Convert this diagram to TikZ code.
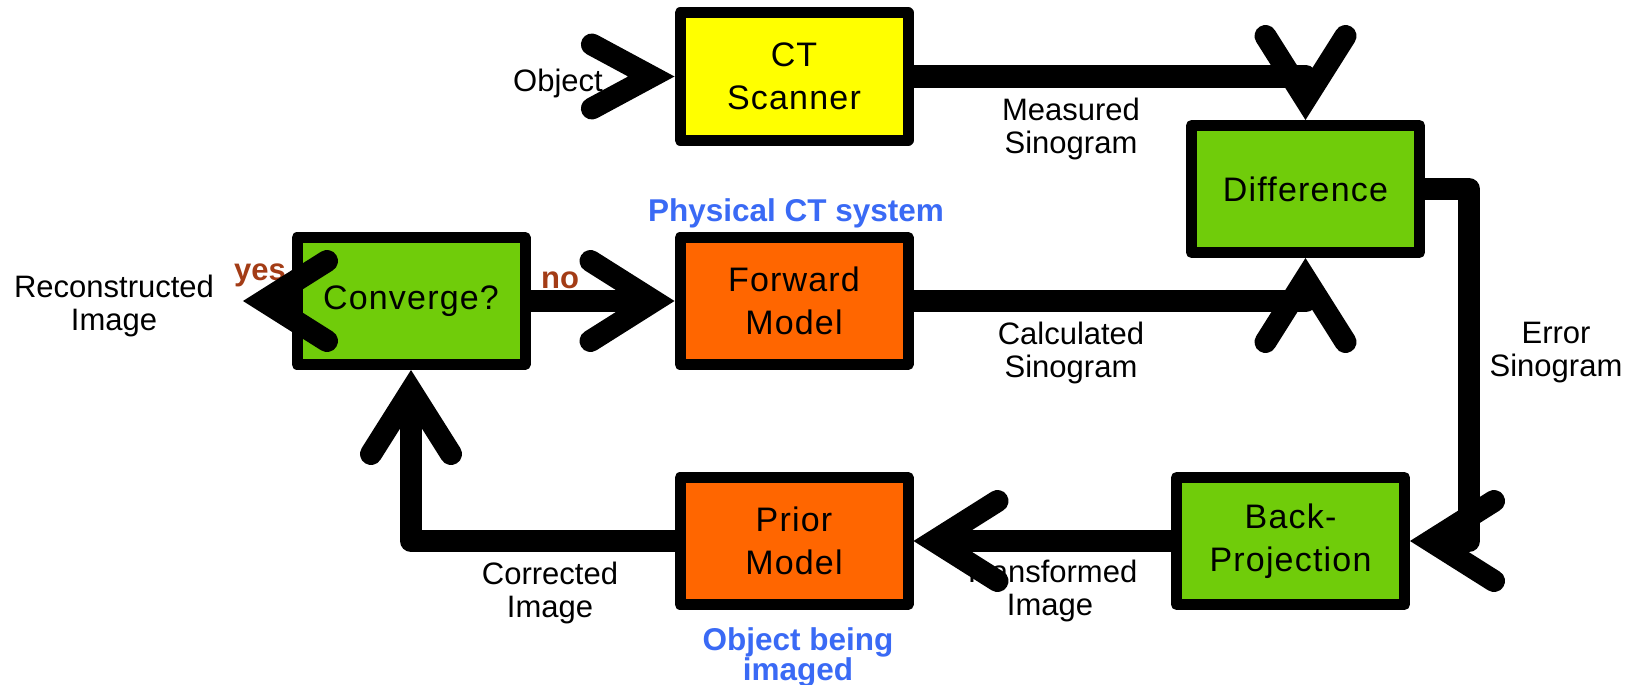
\documentclass[tikz,border=0pt]{standalone}
\usepackage{fontspec}
\setmainfont{Liberation Sans}
\newfontfamily\boxfont[LetterSpace=3.5]{Liberation Sans}
\definecolor{ctyellow}{RGB}{255,255,0}
\definecolor{boxgreen}{RGB}{112,204,10}
\definecolor{boxorange}{RGB}{255,102,0}
\definecolor{noteblue}{RGB}{58,106,245}
\definecolor{answerbrown}{RGB}{163,60,22}
% thick open chevron arrow head with round arm ends and a mitred point
\pgfdeclarearrow{
  name = Chev,
  setup code = {
    \pgfarrowssettipend{20.6pt}
    \pgfarrowssetlineend{-6pt}
    \pgfarrowssetbackend{-74.4pt}
    \pgfarrowshullpoint{20.6pt}{0pt}
    \pgfarrowshullpoint{-74.4pt}{51pt}
    \pgfarrowshullpoint{-74.4pt}{-51pt}
  },
  drawing code = {
    \pgfsetdash{}{0pt}
    \pgfsetlinewidth{22pt}
    \pgfsetmiterjoin
    \pgfsetroundcap
    \pgfpathmoveto{\pgfqpoint{-63.4pt}{40pt}}
    \pgfpathlineto{\pgfpointorigin}
    \pgfpathlineto{\pgfqpoint{-63.4pt}{-40pt}}
    \pgfusepathqstroke
  }
}
\pgfdeclarearrow{
  name = ChevN,
  setup code = {
    \pgfarrowssettipend{23.2pt}
    \pgfarrowssetlineend{-6pt}
    \pgfarrowssetbackend{-70.4pt}
    \pgfarrowshullpoint{23.2pt}{0pt}
    \pgfarrowshullpoint{-70.4pt}{43pt}
    \pgfarrowshullpoint{-70.4pt}{-43pt}
  },
  drawing code = {
    \pgfsetdash{}{0pt}
    \pgfsetlinewidth{22pt}
    \pgfsetmiterjoin
    \pgfsetroundcap
    \pgfpathmoveto{\pgfqpoint{-59.4pt}{32pt}}
    \pgfpathlineto{\pgfpointorigin}
    \pgfpathlineto{\pgfqpoint{-59.4pt}{-32pt}}
    \pgfusepathqstroke
  }
}
\tikzset{
  box/.style={draw, line width=11pt, line join=round, minimum width=228pt,
    minimum height=127pt, inner sep=0pt, align=center,
    font=\boxfont\fontsize{34}{43}\selectfont},
  lbl/.style={align=center, inner sep=0pt, anchor=north,
    font=\fontsize{31}{33}\selectfont},
  note/.style={align=center, inner sep=0pt, text=noteblue,
    font=\bfseries\fontsize{31.5}{27}\selectfont},
  answer/.style={inner sep=0pt, anchor=base, text=answerbrown,
    font=\bfseries\fontsize{31}{33}\selectfont},
  conn/.style={draw, line width=22pt, line join=round, -Chev},
}
\begin{document}
\begin{tikzpicture}[x=1pt, y=-1pt]
\useasboundingbox (0,0) rectangle (1635,685);
\fill[white] (0,0) rectangle (1635,685);

% blocks
\node[box, fill=ctyellow] (ct) at (794,76.5) {CT\\Scanner};
\node[box, fill=boxgreen] (diff) at (1305.5,189) {Difference};
\node[box, fill=boxgreen] (conv) at (411,301) {Converge?};
\node[box, fill=boxorange] (fwd) at (794,301) {Forward\\Model};
\node[box, fill=boxorange] (prior) at (794,541) {Prior\\Model};
\node[box, fill=boxgreen] (back) at (1290.5,541) {Back-\\Projection};

% texts
\node[inner sep=0pt, anchor=base, font=\fontsize{31}{33}\selectfont] (obj) at (558,92) {Object};
\node[lbl] (meas) at (1071,98) {Measured\\Sinogram};
\node[lbl] (calc) at (1071,322) {Calculated\\Sinogram};
\node[lbl] (err) at (1556,322) {Error\\Sinogram};
\node[lbl] (corr) at (550,562) {Corrected\\Image};
\node[lbl] (trans) at (1050,560) {Transformed\\Image};
\node[lbl] (recontxt) at (114,275) {Reconstructed\\Image};
\node[note, anchor=base] (phys) at (796,221) {Physical CT system};
\node[note, anchor=north] (objimg) at (798,627) {Object being\\imaged};
\node[answer] (yes) at (260,280) {yes};
\node[answer] (no) at (560,288) {no};

% free ends and turning points
\coordinate (objin) at (645,76.5);
\coordinate (recon) at (243,301);
\coordinate (errturn) at (1469,541);

% connectors
\draw[conn, -ChevN] (objin) -- (ct.west);
\draw[conn] (ct.east) -| (diff.north);
\draw[conn] (fwd.east) -| (diff.south);
\draw[conn] (diff.east) -| (errturn) -- (back.east);
\draw[conn] (back.west) -- (prior.east);
\draw[conn] (prior.west) -| (conv.south);
\draw[conn] (conv.east) -- (fwd.west);
\draw[conn] (conv.west) -- (recon);
\end{tikzpicture}
\end{document}
